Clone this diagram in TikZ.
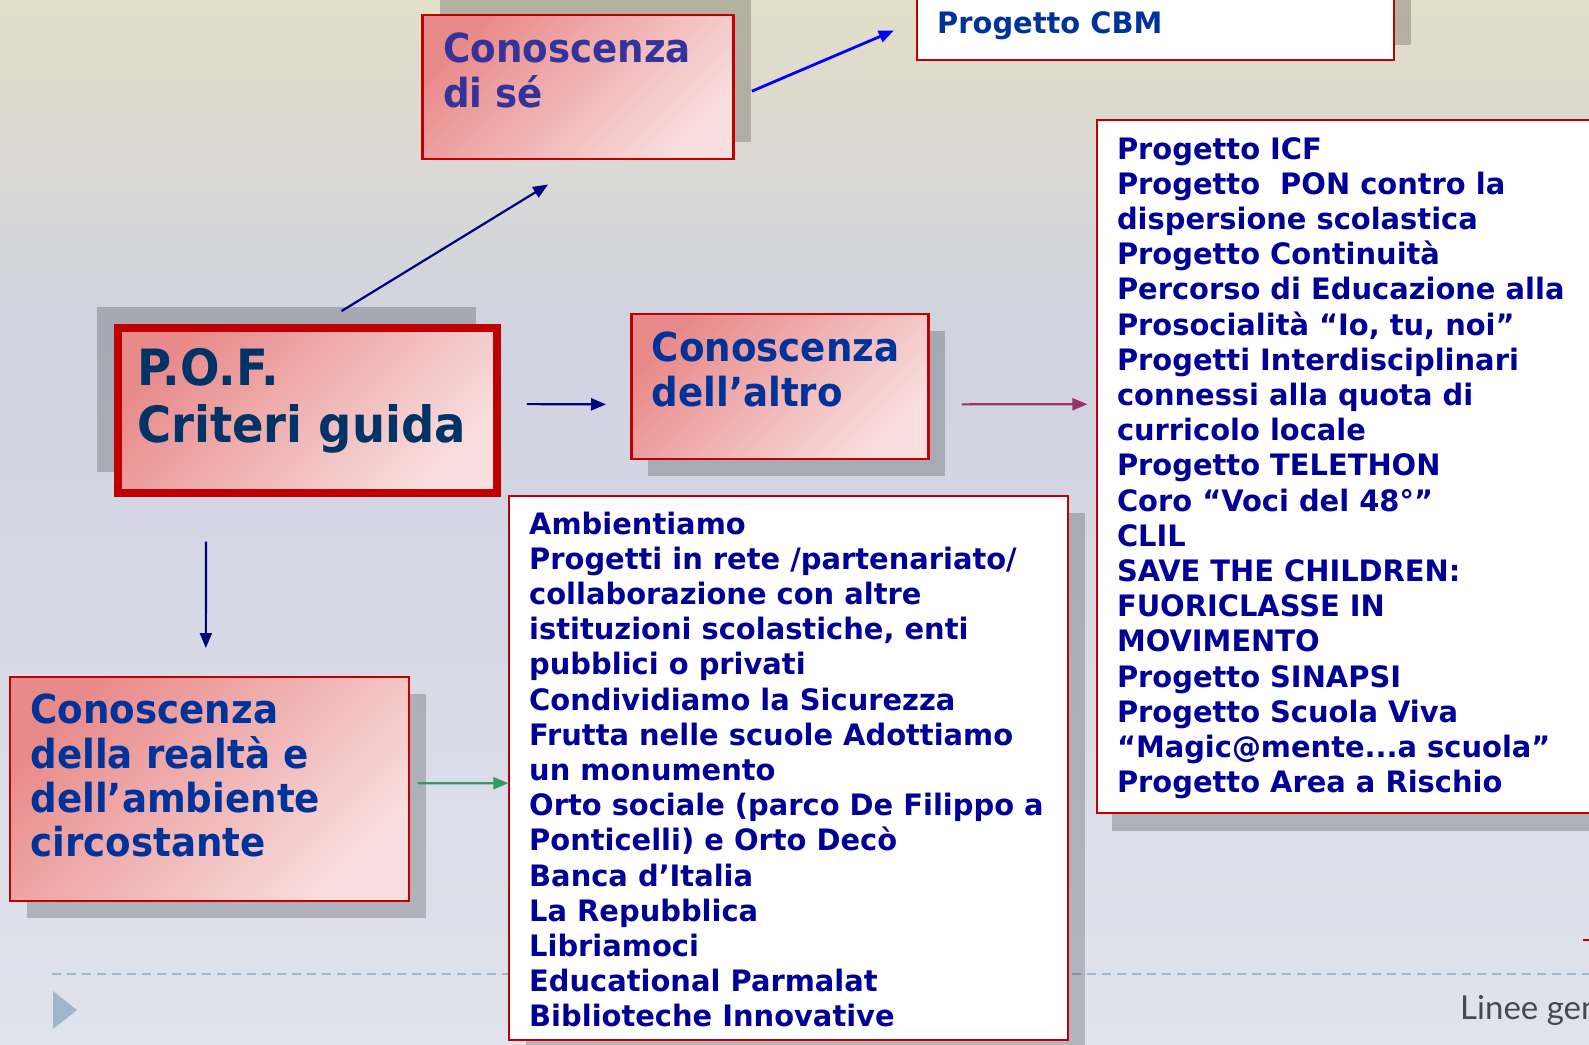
\documentclass[tikz,border=0pt]{standalone}
\usepackage{fontspec}
\setmainfont{DejaVu Sans}[FakeStretch=0.98]
\newfontfamily\titolofont{DejaVu Sans}[FakeStretch=0.93]
\newfontfamily\piede{Lato}
\usetikzlibrary{arrows.meta,shadows}

\definecolor{sfondoalto}{RGB}{227,222,200}
\definecolor{sfondomezzo}{RGB}{208,211,224}
\definecolor{sfondobasso}{RGB}{224,227,236}
\definecolor{rosso}{RGB}{192,0,0}
\definecolor{rosascuro}{RGB}{233,138,138}
\definecolor{rosachiaro}{RGB}{248,222,222}
\definecolor{blutitolo}{RGB}{0,51,153}
\definecolor{blusé}{RGB}{51,51,153}
\definecolor{blupof}{RGB}{0,51,102}
\definecolor{blulista}{RGB}{0,0,153}
\definecolor{frnavy}{RGB}{0,0,128}
\definecolor{frblu}{RGB}{0,0,255}
\definecolor{frprugna}{RGB}{153,51,102}
\definecolor{frverde}{RGB}{51,153,102}
\definecolor{azzurrino}{RGB}{160,182,204}
\definecolor{grigiopiede}{RGB}{72,72,82}

\tikzset{
  scheda/.style={draw=rosso, line width=2.5pt, top color=rosascuro, bottom color=rosachiaro,
    shading angle=45, inner sep=0pt, outer sep=0pt, anchor=north west},
  elenco/.style={draw=rosso, line width=2pt, fill=white, inner sep=0pt, outer sep=0pt, anchor=north west},
  ombra/.style 2 args={drop shadow={shadow xshift=#1, shadow yshift=#2, fill=black, opacity=0.2}},
  titolo/.style={anchor=base west, align=left, inner sep=0pt, text=blutitolo,
    font=\titolofont\bfseries\fontsize{40}{44.4}\selectfont},
  voci/.style={anchor=base west, align=left, inner sep=0pt, text=blulista,
    font=\bfseries\fontsize{29.5}{35.2}\selectfont},
  freccia/.style={line width=2.2pt, -{Triangle[length=15pt,width=12pt]}}
}

\begin{document}
\begin{tikzpicture}[x=1pt,y=-1pt]
    \useasboundingbox (0,0) rectangle (1589,1044);
    \clip (0,0) rectangle (1589,1044);
    % sfondo e piede
    \shade[top color=sfondoalto, bottom color=sfondomezzo] (0,0) rectangle (1589,330);
    \shade[top color=sfondomezzo, bottom color=sfondobasso] (0,330) rectangle (1589,1044);
    \draw[azzurrino, line width=1.5pt, dash pattern=on 9pt off 6pt] (52,974) -- (1589,974);
    \fill[azzurrino] (53,991) -- (77,1010) -- (53,1029) -- cycle;
    \node[anchor=base west, inner sep=0pt, text=grigiopiede, font=\piede\fontsize{33}{40}\selectfont]
      (linee) at (1460,1019.5) {Linee gen};
    \coordinate (fuori) at (1583,940.4);
    \draw[rosso, line width=2pt] (fuori) -- ++(10,0);

    % riquadri
    \node[elenco, ombra={17pt}{15pt}, minimum width=477pt, minimum height=130pt] (cbm) at (917,-70) {};
    \node[scheda, ombra={17pt}{17pt}, minimum width=311pt, minimum height=144pt] (se) at (422.6,15.2) {};
    \node[scheda, line width=8pt, ombra={-21pt}{21pt}, minimum width=379pt, minimum height=165pt]
      (pof) at (117.5,328.3) {};
    \node[scheda, ombra={17pt}{-17pt}, minimum width=297pt, minimum height=145pt] (altro) at (631.3,314.2) {};
    \node[scheda, ombra={17pt}{-17pt}, minimum width=399pt, minimum height=224pt] (realta) at (10.1,677) {};
    \node[elenco, ombra={17pt}{-17pt}, minimum width=559.4pt, minimum height=544pt]
      (listarealta) at (508.7,495.5) {};
    \node[elenco, ombra={15pt}{-18pt}, minimum width=523.5pt, minimum height=693pt]
      (listaaltro) at (1096.5,119.6) {};

    % testi (base = ultima riga)
    \node[voci, text=blutitolo] (cbm-testo) at ([shift={(20,103.4)}]cbm.north west) {Progetto CBM};
    \node[titolo, text=blusé] (se-testo) at ([shift={(20.4,92)}]se.north west) {Conoscenza\\di sé};
    \node[titolo, text=blupof, font=\titolofont\bfseries\fontsize{50}{57.8}\selectfont]
      (pof-testo) at ([shift={(19.3,114.6)}]pof.north west) {P.O.F.\\Criteri guida};
    \node[titolo] (altro-testo) at ([shift={(20.3,92)}]altro.north west) {Conoscenza\\dell’altro};
    \node[titolo] (realta-testo) at ([shift={(20.3,179.8)}]realta.north west)
      {Conoscenza\\della realtà e\\dell’ambiente\\circostante};
    \node[voci] (listarealta-testo) at ([shift={(20.3,531.3)}]listarealta.north west)
      {Ambientiamo\\Progetti in rete /partenariato/\\collaborazione con altre\\
       istituzioni scolastiche, enti\\pubblici o privati\\Condividiamo la Sicurezza\\
       Frutta nelle scuole Adottiamo\\un monumento\\Orto sociale (parco De Filippo a\\
       Ponticelli) e Orto Decò\\Banca d’Italia\\La Repubblica\\Libriamoci\\
       Educational Parmalat\\Biblioteche Innovative};
    \node[voci] (listaaltro-testo) at ([shift={(20.3,673.1)}]listaaltro.north west)
      {Progetto ICF\\Progetto\ \ PON contro la\\dispersione scolastica\\Progetto Continuità\\
       Percorso di Educazione alla\\Prosocialità “Io, tu, noi”\\Progetti Interdisciplinari\\
       connessi alla quota di\\curricolo locale\\Progetto TELETHON\\Coro “Voci del 48°”\\
       CLIL\\SAVE THE CHILDREN:\\FUORICLASSE IN\\MOVIMENTO\\Progetto SINAPSI\\
       Progetto Scuola Viva\\“Magic@mente...a scuola”\\Progetto Area a Rischio};

    % frecce
    \draw[freccia, frnavy] ([shift={(34.5,-17.2)}]pof.north) -- ([shift={(-30,25.3)}]se.south);
    \draw[freccia, frblu, line width=2.8pt] ([shift={(18.3,4)}]se.east) -- ([shift={(-23.2,-29.4)}]cbm.south west);
    \draw[freccia, frnavy] ([shift={(30.4,-6.7)}]pof.east) -- ([shift={(-25.3,17.65)}]altro.west);
    \draw[freccia, frprugna] ([shift={(33.4,17.65)}]altro.east) -- ([shift={(-9.1,-61.85)}]listaaltro.west);
    \draw[freccia, frnavy] ([shift={(-101,48.4)}]pof.south) -- ([shift={(-3.75,-29)}]realta.north);
    \draw[freccia, frverde] ([shift={(8.6,-5.7)}]realta.east) -- ([shift={(-0.4,15.7)}]listarealta.west);
\end{tikzpicture}
\end{document}
